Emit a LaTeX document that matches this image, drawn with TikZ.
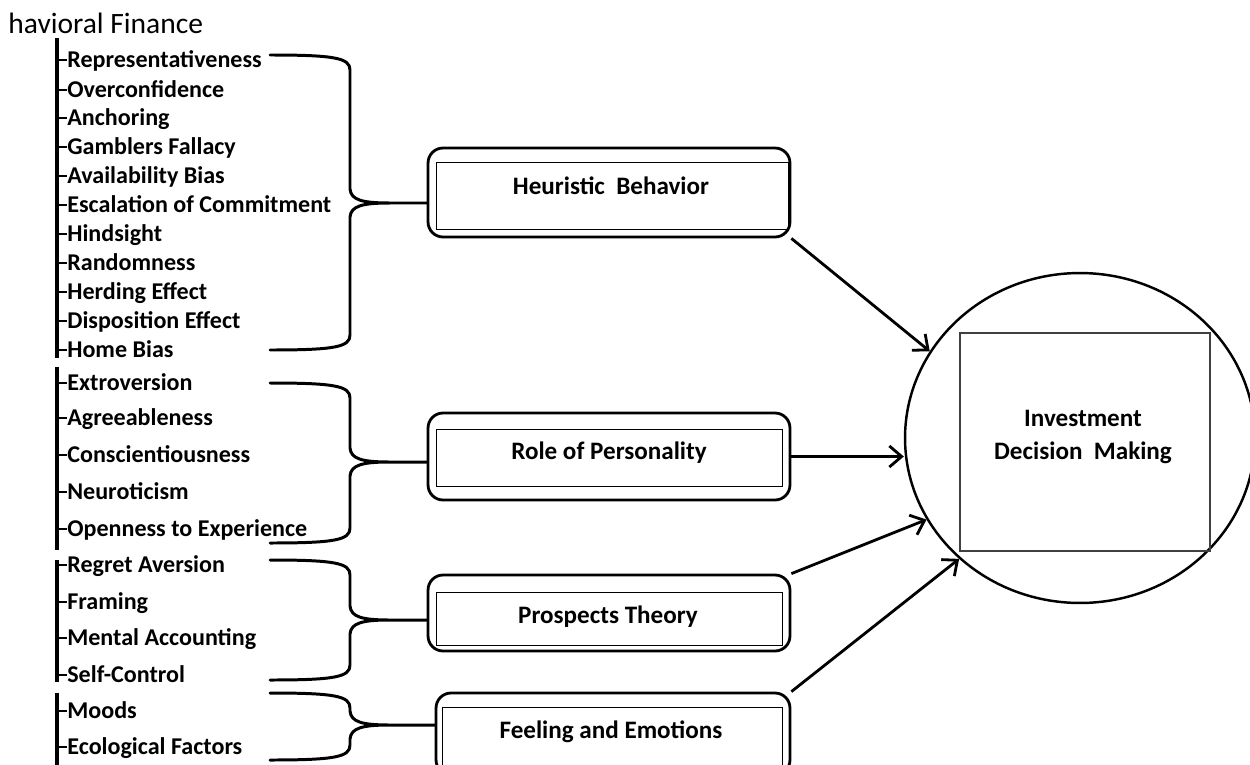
\documentclass[tikz,border=0pt]{standalone}
\usepackage{fontspec}
\setmainfont{Carlito}
\usetikzlibrary{arrows.meta,shapes.geometric}

\tikzset{
  item/.style={anchor=west, inner sep=0pt, text height=9pt, text depth=0pt, font=\bfseries\fontsize{13.7}{16}\selectfont},
  boxtext/.style={inner sep=0pt, font=\bfseries\fontsize{14.3}{17}\selectfont},
  outerbox/.style={draw, line width=1.6pt, rounded corners=3mm, inner sep=0pt},
  innerbox/.style={draw, line width=0.5pt, inner sep=0pt},
  brace/.style={line width=1.7pt, line cap=round},
  bar/.style={line width=1.8pt},
  tick/.style={line width=1pt},
  arr/.style={line width=1.6pt, -{Straight Barb[length=7pt,width=12pt]}}
}

% curly brace: top y, tip y, bottom y, box it points to
\newcommand{\gbrace}[4]{%
  \draw[brace] (270,#1) .. controls (335,#1) and (350,#1+3) .. (350,#1+15)
    -- (350,#2-14) .. controls (351,#2-3) and (362,#2) .. (390,#2) -- (#4.west |- 0,#2)
    (390,#2) .. controls (362,#2) and (351,#2+3) .. (350,#2+14)
    -- (350,#3-15) .. controls (350,#3-3) and (335,#3) .. (270,#3);
}

\begin{document}
\begin{tikzpicture}[x={(0.02cm,0)}, y={(0,-0.02cm)}]
\useasboundingbox (0,0) rectangle (1250,764);

% titolo
\node[anchor=base west, inner sep=0pt, font=\fontsize{16.8}{19}\selectfont] (title) at (8,33) {havioral Finance};

% voci
\node[item] (rep) at (67,60) {Representativeness};
\node[item] (ovc) at (67,90) {Overconfidence};
\node[item] (anc) at (67,118) {Anchoring};
\node[item] (gam) at (67,147) {Gamblers Fallacy};
\node[item] (ava) at (67,176) {Availability Bias};
\node[item] (esc) at (67,205) {Escalation of Commitment};
\node[item] (hin) at (67,234) {Hindsight};
\node[item] (ran) at (67,263) {Randomness};
\node[item] (her) at (67,292) {Herding Effect};
\node[item] (dis) at (67,321) {Disposition Effect};
\node[item] (hom) at (67,350) {Home Bias};

\node[item] (ext) at (67,383) {Extroversion};
\node[item] (agr) at (67,418) {Agreeableness};
\node[item] (con) at (67,455) {Conscientiousness};
\node[item] (neu) at (67,492) {Neuroticism};
\node[item] (ope) at (67,529) {Openness to Experience};

\node[item] (reg) at (67,565) {Regret Aversion};
\node[item] (fra) at (67,602) {Framing};
\node[item] (men) at (67,638) {Mental Accounting};
\node[item] (sel) at (67,675) {Self-Control};

\node[item] (moo) at (67,711) {Moods};
\node[item] (eco) at (67,747) {Ecological Factors};

% barre a sinistra
\draw[bar] (57,38) -- (57,358);
\draw[bar] (57,367) -- (57,550);
\draw[bar] (57,560) -- (57,682);
\draw[bar] (57,693) -- (57,770);
\draw[tick] (57,60) -- (rep.west);
\draw[tick] (57,90) -- (ovc.west);
\draw[tick] (57,118) -- (anc.west);
\draw[tick] (57,147) -- (gam.west);
\draw[tick] (57,176) -- (ava.west);
\draw[tick] (57,205) -- (esc.west);
\draw[tick] (57,234) -- (hin.west);
\draw[tick] (57,263) -- (ran.west);
\draw[tick] (57,292) -- (her.west);
\draw[tick] (57,321) -- (dis.west);
\draw[tick] (57,350) -- (hom.west);
\draw[tick] (57,383) -- (ext.west);
\draw[tick] (57,418) -- (agr.west);
\draw[tick] (57,455) -- (con.west);
\draw[tick] (57,492) -- (neu.west);
\draw[tick] (57,529) -- (ope.west);
\draw[tick] (57,565) -- (reg.west);
\draw[tick] (57,602) -- (fra.west);
\draw[tick] (57,638) -- (men.west);
\draw[tick] (57,675) -- (sel.west);
\draw[tick] (57,711) -- (moo.west);
\draw[tick] (57,747) -- (eco.west);

% riquadri
\node[outerbox, minimum width=7.24cm, minimum height=1.78cm] (heur) at (609,192.5) {};
\node[innerbox, minimum width=7.04cm, minimum height=1.34cm] (heur-in) at (612,195.5) {};
\node[boxtext] (heur-txt) at (611,186) {Heuristic\ \ Behavior};

\node[outerbox, minimum width=7.24cm, minimum height=1.74cm] (role) at (609,456.5) {};
\node[innerbox, minimum width=6.92cm, minimum height=1.14cm] (role-in) at (609,457.5) {};
\node[boxtext] (role-txt) at (609,453) {Role of Personality};

\node[outerbox, minimum width=7.24cm, minimum height=1.52cm] (pros) at (609,613) {};
\node[innerbox, minimum width=6.92cm, minimum height=1.06cm] (pros-in) at (609,618.5) {};
\node[boxtext] (pros-txt) at (608,617) {Prospects Theory};

\node[outerbox, minimum width=7.08cm, minimum height=1.64cm] (feel) at (613,734) {};
\node[innerbox, minimum width=6.8cm, minimum height=1.26cm] (feel-in) at (612,738.5) {};
\node[boxtext] (feel-txt) at (611,732) {Feeling\ and Emotions};

% parentesi graffe
\gbrace{55}{203}{350}{heur}
\gbrace{383}{462}{543}{role}
\gbrace{560}{620}{680}{pros}
\gbrace{693}{725}{760}{feel}

% cerchio
\node[draw, ellipse, line width=1.4pt, minimum width=7cm, minimum height=6.6cm, inner sep=0pt] (idm) at (1080,438) {};
\node[draw=black!75, line width=0.8pt, minimum width=5cm, minimum height=4.36cm, inner sep=0pt] (idm-in) at (1085,442) {};
\node[boxtext, align=center] (idm-txt) at (1083,437) {Investment\\[2pt]Decision\ \ Making};

% frecce
\draw[arr] (heur.south east) -- (idm.150);
\draw[arr] (role.east) -- (role.east -| idm.west);
\draw[arr] (pros.north east) -- (idm.208);
\draw[arr] (feel.north east) -- (idm.225);
\end{tikzpicture}
\end{document}
